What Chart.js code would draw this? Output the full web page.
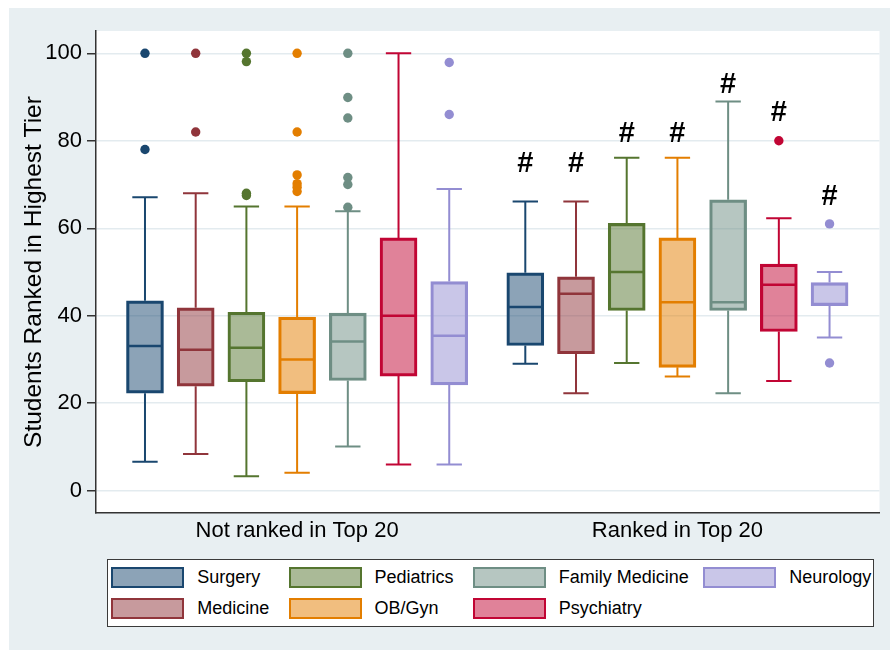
<!DOCTYPE html>
<html>
<head>
<meta charset="utf-8">
<script src="https://cdn.jsdelivr.net/npm/chart.js@4.4.1/dist/chart.umd.min.js"></script>
<style>
  html, body { margin: 0; padding: 0; background: #fff; }
  #wrap { position: relative; width: 890px; height: 650px; }
  #wrap canvas { position: absolute; left: 0; top: 0; }
  #legend {
    position: absolute; left: 107px; top: 559px; width: 767px; height: 68px;
    box-sizing: border-box; border: 1.5px solid #3a3a3a; background: #fff;
  }
  .item {
    position: absolute; display: flex; align-items: center; height: 21px;
    font: 18px "Liberation Sans", Arial, sans-serif; color: #000; white-space: nowrap;
  }
  .sw { width: 73px; height: 21px; box-sizing: border-box; border: 2px solid; margin-right: 13px; }
</style>
</head>
<body>
<div id="wrap">
  <canvas id="c" width="890" height="650"></canvas>
  <div id="legend"></div>
</div>
<script>
// ---- data ---------------------------------------------------------------
const groups = ['Not ranked in Top 20', 'Ranked in Top 20'];
const specialties = ['Surgery', 'Medicine', 'Pediatrics', 'OB/Gyn', 'Family Medicine', 'Psychiatry', 'Neurology'];
const yTicks = [0, 20, 40, 60, 80, 100];

// Not ranked in Top 20
const notRankedLow    = [6.6, 8.4, 3.3, 4.1, 10.1, 6.0, 6.0];
const notRankedQ1     = [22.3, 23.9, 24.9, 22.2, 25.2, 26.2, 24.2];
const notRankedMedian = [33.1, 32.2, 32.7, 30.0, 34.1, 40.0, 35.4];
const notRankedQ3     = [43.4, 41.8, 40.8, 39.7, 40.6, 57.8, 47.8];
const notRankedHigh   = [67.1, 68.0, 65.0, 65.0, 63.9, 100, 69.0];
const notRankedOutliers = [
  [100, 78],
  [100, 82],
  [100, 98.1, 68.0, 67.5],
  [100, 82, 72.2, 70.2, 69.4, 68.4],
  [100, 89.9, 85.2, 71.6, 70.0, 64.8],
  [],
  [97.9, 86.0]
];

// Ranked in Top 20
const rankedLow    = [29.0, 22.3, 29.2, 26.1, 22.3, 25.1, 35.0];
const rankedQ1     = [33.2, 31.3, 41.2, 28.2, 41.2, 36.4, 42.3];
const rankedMedian = [42.0, 45.0, 50.0, 43.1, 43.1, 47.1, 47.2];
const rankedQ3     = [49.8, 48.9, 61.1, 57.8, 66.5, 51.8, 47.6];
const rankedHigh   = [66.1, 66.1, 76.1, 76.1, 89.0, 62.3, 50.0];
const rankedOutliers = [[], [], [], [], [], [80], [61, 29.2]];

// height (in axis units) of the "#" significance flag above each ranked box
const flagY = [74.7, 74.7, 81.5, 81.5, 92.7, 86.3, 67.1];

// ---- styling ------------------------------------------------------------
const edgeColors = ['#1a476f', '#90353b', '#55752f', '#e37e00', '#6e8e84', '#c10534', '#938dd2'];
const FONT = '"Liberation Sans", Arial, Helvetica, sans-serif';
const BG = '#e8eff2';
const GRID = '#e3ebef';
const AXIS = '#333333';

function fillOf(hex) {
  const n = parseInt(hex.slice(1), 16);
  return `rgba(${(n >> 16) & 255}, ${(n >> 8) & 255}, ${n & 255}, 0.5)`;
}

// box positions on the linear x axis: 1..7 for the first group, 8.5..14.5 for the second
const groupStart = [1, 8.5];
const groupCenters = groupStart.map(s => s + 3);
const pos = (g, i) => groupStart[g] + i;

const stats = [
  { low: notRankedLow, q1: notRankedQ1, med: notRankedMedian, q3: notRankedQ3, high: notRankedHigh, out: notRankedOutliers },
  { low: rankedLow, q1: rankedQ1, med: rankedMedian, q3: rankedQ3, high: rankedHigh, out: rankedOutliers }
];

// ---- datasets -----------------------------------------------------------
const boxDatasets = specialties.map((name, i) => ({
  type: 'bar',
  label: name,
  data: stats.map((s, g) => ({ x: pos(g, i), y: [s.q1[i], s.q3[i]] })),
  backgroundColor: fillOf(edgeColors[i]),
  borderColor: edgeColors[i],
  borderWidth: 2.5,
  borderSkipped: false,
  barThickness: 37,
  grouped: false,
  order: 2
}));

const outlierDatasets = specialties.map((name, i) => ({
  type: 'scatter',
  label: name + ' outliers',
  data: stats.flatMap((s, g) => s.out[i].map(v => ({ x: pos(g, i), y: v }))),
  pointRadius: 4.7,
  pointHoverRadius: 4.7,
  pointBackgroundColor: edgeColors[i],
  pointBorderWidth: 0,
  showLine: false,
  order: 1
}));

// ---- plugins ------------------------------------------------------------
const backdrop = {
  id: 'backdrop',
  beforeDraw(chart) {
    const { ctx, chartArea: a, width, height } = chart;
    ctx.save();
    ctx.fillStyle = '#fff';
    ctx.fillRect(0, 0, width, height);
    ctx.fillStyle = BG;
    ctx.fillRect(9, 8, width - 9, height - 8);
    ctx.fillStyle = '#fff';
    ctx.fillRect(a.left, a.top, a.right - a.left, a.bottom - a.top);
    ctx.restore();
  }
};

const boxParts = {
  id: 'boxParts',
  beforeDatasetsDraw(chart) {
    // whiskers and caps
    const { ctx, scales: { x, y } } = chart;
    ctx.save();
    ctx.lineWidth = 2;
    stats.forEach((s, g) => {
      specialties.forEach((_, i) => {
        const p = pos(g, i);
        const cx = x.getPixelForValue(p);
        const c0 = x.getPixelForValue(p - 0.25), c1 = x.getPixelForValue(p + 0.25);
        ctx.strokeStyle = edgeColors[i];
        ctx.beginPath();
        ctx.moveTo(cx, y.getPixelForValue(s.q3[i]));
        ctx.lineTo(cx, y.getPixelForValue(s.high[i]));
        ctx.moveTo(cx, y.getPixelForValue(s.q1[i]));
        ctx.lineTo(cx, y.getPixelForValue(s.low[i]));
        ctx.moveTo(c0, y.getPixelForValue(s.high[i]));
        ctx.lineTo(c1, y.getPixelForValue(s.high[i]));
        ctx.moveTo(c0, y.getPixelForValue(s.low[i]));
        ctx.lineTo(c1, y.getPixelForValue(s.low[i]));
        ctx.stroke();
      });
    });
    ctx.restore();
  },
  afterDatasetsDraw(chart) {
    // medians and significance flags
    const { ctx, scales: { x, y } } = chart;
    ctx.save();
    ctx.lineWidth = 2.5;
    specialties.forEach((_, i) => {
      const meta = chart.getDatasetMeta(i);
      stats.forEach((s, g) => {
        const el = meta.data[g];
        const my = y.getPixelForValue(s.med[i]);
        ctx.strokeStyle = edgeColors[i];
        ctx.beginPath();
        ctx.moveTo(el.x - el.width / 2 + 1, my);
        ctx.lineTo(el.x + el.width / 2 - 1, my);
        ctx.stroke();
      });
    });
    ctx.fillStyle = '#000';
    ctx.font = `bold 29px ${FONT}`;
    ctx.textAlign = 'center';
    ctx.textBaseline = 'middle';
    flagY.forEach((v, i) => {
      ctx.fillText('#', x.getPixelForValue(pos(1, i)), y.getPixelForValue(v));
    });
    ctx.restore();
  }
};

// ---- chart --------------------------------------------------------------
new Chart(document.getElementById('c'), {
  type: 'bar',
  data: { datasets: [...boxDatasets, ...outlierDatasets] },
  options: {
    responsive: false,
    animation: false,
    events: [],
    layout: { padding: { left: 0, right: 10.5, top: 31, bottom: 0 } },
    plugins: { legend: { display: false }, tooltip: { enabled: false } },
    scales: {
      x: {
        type: 'linear',
        min: 0.034,
        max: 15.485,
        offset: false,
        afterBuildTicks: s => { s.ticks = groupCenters.map(v => ({ value: v })); },
        afterFit: s => { s.height = 137; },
        grid: { display: false, drawTicks: false },
        border: { display: true, color: AXIS, width: 1.5 },
        ticks: {
          autoSkip: false, maxRotation: 0, padding: 5, color: '#000',
          font: { family: FONT, size: 22 },
          callback: (v, idx) => groups[idx]
        }
      },
      y: {
        min: -5.1,
        max: 105.1,
        afterBuildTicks: s => { s.ticks = yTicks.map(v => ({ value: v })); },
        afterFit: s => { s.width = 96; },
        grid: { color: GRID, lineWidth: 1.5, drawTicks: true, tickLength: 9, tickColor: AXIS, tickWidth: 1.5 },
        border: { display: true, color: AXIS, width: 1.5 },
        ticks: { padding: 5, color: '#000', font: { family: FONT, size: 22 } },
        title: {
          display: true, text: 'Students Ranked in Highest Tier', color: '#000',
          font: { family: FONT, size: 24.5 }, padding: { top: 20, bottom: 0 }
        }
      }
    }
  },
  plugins: [backdrop, boxParts]
});

// ---- legend (two rows, filled column by column) --------------------------
const legendCols = [3.2, 180.5, 364.8, 595.2];
const legendRows = [6.8, 37.8];
const legend = document.getElementById('legend');
specialties.forEach((name, k) => {
  const item = document.createElement('div');
  item.className = 'item';
  item.style.left = legendCols[Math.floor(k / 2)] + 'px';
  item.style.top = legendRows[k % 2] + 'px';
  const sw = document.createElement('span');
  sw.className = 'sw';
  sw.style.borderColor = edgeColors[k];
  sw.style.background = fillOf(edgeColors[k]);
  const label = document.createElement('span');
  label.textContent = name;
  item.append(sw, label);
  legend.appendChild(item);
});
</script>
</body>
</html>
